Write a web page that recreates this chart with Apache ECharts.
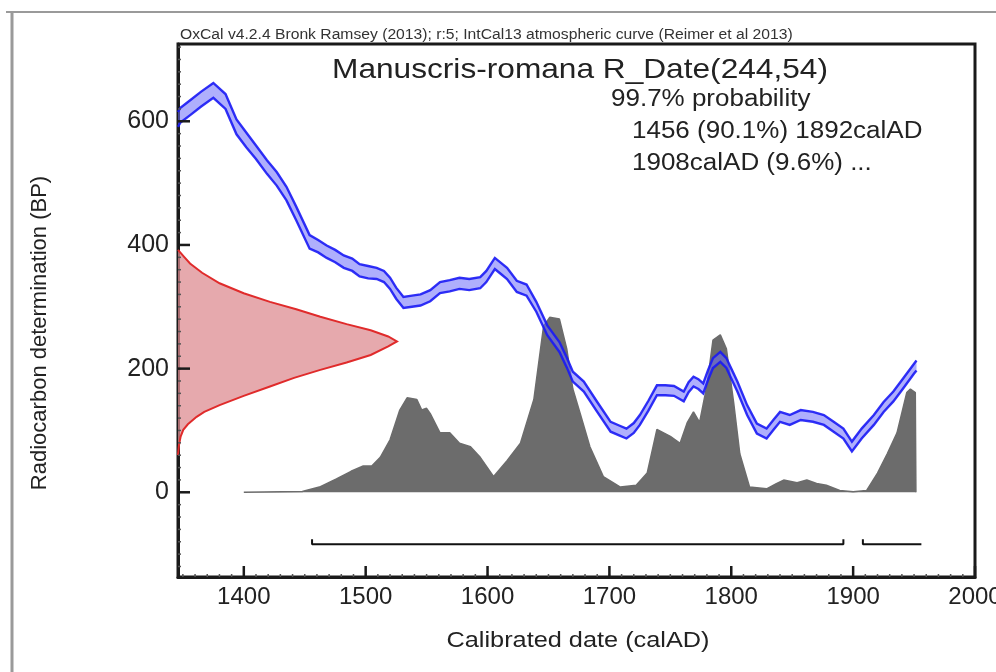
<!DOCTYPE html>
<html>
<head>
<meta charset="utf-8">
<script src="https://cdn.jsdelivr.net/npm/echarts@6.0.0/dist/echarts.min.js"></script>
<style>
  html, body { margin: 0; padding: 0; background: #fff; }
  #chart { width: 996px; height: 672px; }
</style>
</head>
<body>
<div id="chart"></div>
<script>
// calibration curve (IntCal13), centre and 1 sigma
const curveYears = [1346, 1348, 1356, 1365, 1375, 1385, 1394, 1402, 1410, 1419, 1427, 1435, 1443, 1454, 1461, 1468, 1475, 1482, 1489, 1495, 1502, 1509, 1515, 1520, 1525, 1531, 1538, 1545, 1553, 1561, 1569, 1577, 1585, 1594, 1599, 1606, 1611, 1616, 1624, 1632, 1640, 1649, 1659, 1665, 1670, 1679, 1690, 1701, 1708, 1714, 1720, 1725, 1732, 1739, 1746, 1753, 1761, 1765, 1769, 1773, 1777, 1781, 1785, 1791, 1796, 1800, 1805, 1813, 1821, 1829, 1835, 1840, 1848, 1857, 1867, 1876, 1884, 1892, 1899, 1907, 1917, 1925, 1933, 1941, 1950, 1952]
const curveBP = [603, 610, 622, 636, 650, 632, 591, 570, 550, 526, 507, 483, 451, 405, 398, 389, 382, 373, 368, 359, 356, 354, 349, 338, 322, 307, 309, 311, 318, 331, 334, 338, 336, 339, 349, 370, 362, 354, 333, 327, 300, 262, 235, 210, 187, 171, 138, 106, 100, 95, 104, 117, 140, 165, 165, 164, 155, 170, 179, 175, 168, 190, 209, 219, 209, 192, 171, 133, 103, 95, 110, 122, 117, 125, 122, 117, 106, 95, 74, 95, 117, 138, 155, 176, 200, 205]
const curveErr = [12, 12, 12, 12, 12, 12, 12, 12, 11, 11, 11, 11, 11, 11, 10, 10, 10, 10, 10, 10, 10, 9, 9, 9, 9, 9, 9, 9, 9, 9, 9, 9, 9, 9, 9, 9, 9, 9, 9, 9, 8, 8, 8, 8, 8, 8, 8, 8, 8, 8, 8, 8, 8, 8, 8, 8, 8, 8, 8, 8, 8, 8, 8, 8, 8, 8, 8, 8, 8, 8, 8, 8, 8, 8, 8, 8, 8, 8, 8, 8, 8, 8, 8, 8, 8, 8]

// radiocarbon likelihood R_Date(244,54), relative height
const likeBP = [392, 380, 370, 355, 338, 322, 308, 296, 284, 272, 262, 252, 244, 236, 222, 210, 198, 185, 171, 156, 141, 130, 122, 110, 101, 90, 75, 60]
const likeRel = [0.0, 0.03, 0.055, 0.11, 0.19, 0.30, 0.42, 0.54, 0.65, 0.77, 0.88, 0.96, 1.0, 0.96, 0.88, 0.77, 0.65, 0.53, 0.42, 0.30, 0.19, 0.12, 0.085, 0.045, 0.024, 0.012, 0.004, 0]

// calibrated date probability, relative height
const probYears = [1400, 1448, 1462, 1476, 1488, 1498, 1505, 1512, 1520, 1528, 1534, 1542, 1546, 1550, 1553, 1561, 1569, 1577, 1586, 1594, 1605, 1616, 1627, 1638, 1646, 1651, 1659, 1665, 1670, 1676, 1684, 1695, 1709, 1722, 1731, 1739, 1750, 1758, 1764, 1769, 1774, 1780, 1785, 1791, 1796, 1802, 1807, 1815, 1829, 1837, 1843, 1854, 1862, 1870, 1878, 1889, 1900, 1911, 1920, 1928, 1936, 1944, 1947, 1951, 1951.5]
const probRel = [0, 0.005, 0.03, 0.076, 0.12, 0.15, 0.15, 0.2, 0.3, 0.47, 0.54, 0.53, 0.47, 0.48, 0.45, 0.34, 0.34, 0.28, 0.26, 0.2, 0.09, 0.18, 0.28, 0.53, 0.95, 1.0, 0.99, 0.82, 0.59, 0.45, 0.26, 0.09, 0.03, 0.04, 0.11, 0.36, 0.32, 0.28, 0.4, 0.46, 0.4, 0.61, 0.87, 0.9, 0.82, 0.51, 0.22, 0.03, 0.02, 0.05, 0.07, 0.055, 0.07, 0.05, 0.04, 0.01, 0.003, 0.01, 0.11, 0.22, 0.34, 0.57, 0.59, 0.57, 0]

// 99.7% ranges
const rangeFrom = [1456, 1908]
const rangeTo = [1892, 1956]
const rangeOpenEnd = [false, true]

const xTickLabels = [1400, 1500, 1600, 1700, 1800, 1900, 2000]
const yTickLabels = [0, 200, 400, 600]

const headerText = 'OxCal v4.2.4 Bronk Ramsey (2013); r:5; IntCal13 atmospheric curve (Reimer et al 2013)'
const titleText = 'Manuscris-romana R_Date(244,54)'
const probLines = ['99.7% probability', '1456 (90.1%) 1892calAD', '1908calAD (9.6%) ...']

const FONT = 'Liberation Sans, Arial, sans-serif'
const X_MIN = 1346, X_MAX = 2000
const Y_MIN = -137, Y_MAX = 725
const rangeY = -84

const chart = echarts.init(document.getElementById('chart'))

// minor tick positions
const xMinor = []
for (let v = 1350; v <= 2000; v += 10) xMinor.push(v)
const yMinor = []
for (let v = -120; v <= 720; v += 20) yMinor.push(v)

const rangeSeries = rangeFrom.map((from, i) => {
  const to = rangeTo[i]
  const data = [[from, rangeY + 8], [from, rangeY], [to, rangeY]]
  if (!rangeOpenEnd[i]) data.push([to, rangeY + 8])
  return {
    type: 'line',
    data,
    symbol: 'none',
    silent: true,
    z: 5,
    lineStyle: { color: '#111', width: 2 }
  }
})

const plain = v => String(v)

// inward ticks along the bottom and left frame
function renderTicks(params, api) {
  if (params.dataIndex !== 0) return null
  const children = []
  const tick = (p, dx, dy, w, c) => children.push({
    type: 'line',
    shape: { x1: p[0], y1: p[1], x2: p[0] + dx, y2: p[1] + dy },
    style: { stroke: c, lineWidth: w }
  })
  xMinor.forEach(v => tick(api.coord([v, Y_MIN]), 0, -3, 1.5, '#555'))
  xTickLabels.forEach(v => tick(api.coord([v, Y_MIN]), 0, -11, 2.5, '#1a1a1a'))
  yMinor.forEach(v => tick(api.coord([X_MIN, v]), 3, 0, 1.5, '#555'))
  yTickLabels.forEach(v => tick(api.coord([X_MIN, v]), 12, 0, 2.5, '#1a1a1a'))
  return { type: 'group', children }
}

const option = {
  animation: false,
  grid: {
    left: 178,
    top: 44,
    width: 797,
    height: 533,
    outerBoundsMode: 'none',
    containLabel: false,
    show: true,
    borderColor: '#1a1a1a',
    borderWidth: 3
  },
  xAxis: [{
    type: 'value',
    min: X_MIN,
    max: X_MAX,
    position: 'bottom',
    axisLine: { onZero: false, lineStyle: { color: '#1a1a1a', width: 3 } },
    axisTick: { show: false },
    axisLabel: {
      customValues: xTickLabels,
      formatter: plain,
      color: '#222',
      fontSize: 24,
      fontFamily: FONT,
      margin: 8
    },
    splitLine: { show: false }
  }, {
    // hidden scale for the likelihood width
    type: 'value',
    min: 0,
    max: 3.64,
    show: false
  }],
  yAxis: [{
    type: 'value',
    min: Y_MIN,
    max: Y_MAX,
    position: 'left',
    axisLine: { show: true, onZero: false, lineStyle: { color: '#1a1a1a', width: 3 } },
    axisTick: { show: false },
    axisLabel: {
      customValues: yTickLabels,
      formatter: plain,
      color: '#222',
      fontSize: 25,
      fontFamily: FONT,
      margin: 9
    },
    splitLine: { show: false }
  }, {
    // hidden scale for the calibrated probability
    type: 'value',
    min: -0.484,
    max: 2.562,
    show: false
  }],
  series: [{
    type: 'line',
    xAxisIndex: 0,
    yAxisIndex: 1,
    data: probYears.map((y, i) => [y, probRel[i]]),
    symbol: 'none',
    silent: true,
    z: 1,
    lineStyle: { color: '#6c6c6c', width: 1.5 },
    areaStyle: { color: '#6c6c6c', opacity: 1 }
  }, {
    type: 'custom',
    xAxisIndex: 1,
    yAxisIndex: 0,
    data: likeBP.map((b, i) => [likeRel[i], b]),
    silent: true,
    z: 3,
    renderItem(params, api) {
      if (params.dataIndex !== 0) return null
      const pts = likeBP.map((b, i) => api.coord([likeRel[i], b]))
      const poly = [api.coord([0, likeBP[0]])].concat(pts, [api.coord([0, likeBP[likeBP.length - 1]])])
      return {
        type: 'group',
        children: [{
          type: 'polygon',
          shape: { points: poly },
          style: { fill: 'rgba(222,140,146,0.75)' }
        }, {
          type: 'polyline',
          shape: { points: pts },
          style: { stroke: '#e02b2b', lineWidth: 2, fill: null }
        }]
      }
    }
  }, {
    type: 'custom',
    xAxisIndex: 0,
    yAxisIndex: 0,
    data: curveYears.map((y, i) => [y, curveBP[i]]),
    silent: true,
    z: 4,
    renderItem(params, api) {
      if (params.dataIndex !== 0) return null
      const upper = curveYears.map((y, i) => api.coord([y, curveBP[i] + curveErr[i]]))
      const lower = curveYears.map((y, i) => api.coord([y, curveBP[i] - curveErr[i]]))
      return {
        type: 'group',
        children: [{
          type: 'polygon',
          shape: { points: upper.concat(lower.slice().reverse()) },
          style: { fill: 'rgba(110,110,250,0.55)' }
        }, {
          type: 'polyline',
          shape: { points: upper },
          style: { stroke: 'rgba(25,25,245,0.9)', lineWidth: 2.4, fill: null }
        }, {
          type: 'polyline',
          shape: { points: lower },
          style: { stroke: 'rgba(25,25,245,0.9)', lineWidth: 2.4, fill: null }
        }]
      }
    }
  }, {
    type: 'custom',
    xAxisIndex: 0,
    yAxisIndex: 0,
    data: [[X_MIN, Y_MIN]],
    silent: true,
    z: 6,
    renderItem: renderTicks
  }].concat(rangeSeries),
  graphic: [{
    type: 'line',
    shape: { x1: 6, y1: 12, x2: 996, y2: 12 },
    style: { stroke: '#9a9a9a', lineWidth: 2 }
  }, {
    type: 'line',
    shape: { x1: 12, y1: 12, x2: 12, y2: 672 },
    style: { stroke: '#9a9a9a', lineWidth: 3 }
  }, {
    type: 'text',
    x: 180,
    y: 35,
    scaleX: 1.12,
    style: { text: headerText, fontSize: 14, fontFamily: FONT, fill: '#333', verticalAlign: 'middle' }
  }, {
    type: 'text',
    x: 580,
    y: 70,
    scaleX: 1.13,
    style: { text: titleText, fontSize: 28, fontFamily: FONT, fill: '#222', align: 'center', verticalAlign: 'middle' }
  }, {
    type: 'text',
    x: 611,
    y: 100,
    scaleX: 1.13,
    style: { text: probLines[0], fontSize: 23, fontFamily: FONT, fill: '#222', verticalAlign: 'middle' }
  }, {
    type: 'text',
    x: 632,
    y: 132,
    scaleX: 1.13,
    style: { text: probLines[1], fontSize: 23, fontFamily: FONT, fill: '#222', verticalAlign: 'middle' }
  }, {
    type: 'text',
    x: 632,
    y: 164,
    scaleX: 1.13,
    style: { text: probLines[2], fontSize: 23, fontFamily: FONT, fill: '#222', verticalAlign: 'middle' }
  }, {
    type: 'text',
    x: 40,
    y: 333,
    rotation: Math.PI / 2,
    style: { text: 'Radiocarbon determination (BP)', fontSize: 22, fontFamily: FONT, fill: '#222', align: 'center', verticalAlign: 'middle' }
  }, {
    type: 'text',
    x: 578,
    y: 641,
    scaleX: 1.15,
    style: { text: 'Calibrated date (calAD)', fontSize: 22, fontFamily: FONT, fill: '#222', align: 'center', verticalAlign: 'middle' }
  }]
}

chart.setOption(option)
</script>
</body>
</html>
